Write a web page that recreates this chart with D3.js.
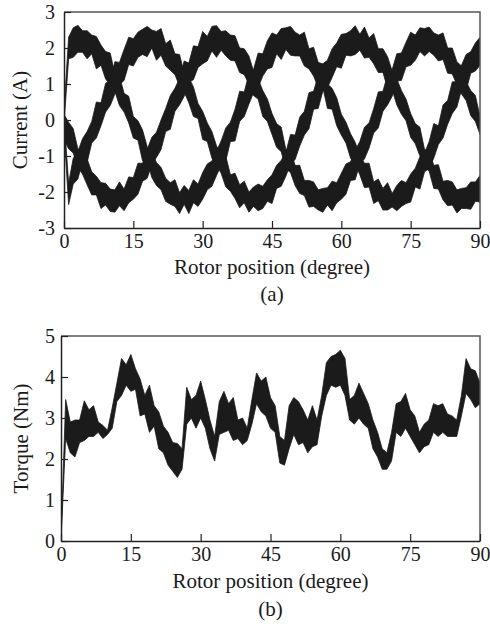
<!DOCTYPE html>
<html>
<head>
<meta charset="utf-8">
<script src="https://cdn.jsdelivr.net/npm/d3@7"></script>
<style>
  html, body { margin: 0; padding: 0; background: #fff; }
  svg { display: block; font-family: "Liberation Serif", "Times New Roman", serif; }
</style>
</head>
<body>
<div id="chart"></div>
<script>
// rotor position, one value per degree
const positions = d3.range(0, 91);
const xTicks = [0, 15, 30, 45, 60, 75, 90];
const currentTicks = [-3, -2, -1, 0, 1, 2, 3];
const torqueTicks = [0, 1, 2, 3, 4, 5];

// phase currents (A): upper / lower edge of the ripple band, read per degree
const phaseAHigh = [0.25, 2.30, 2.56, 2.63, 2.48, 2.48, 2.36, 2.32, 2.08, 1.90, 1.86, 1.28, 1.22, 0.74, 0.66, 0.10, -0.02, -0.28, -0.74, -0.90, -1.18, -1.32, -1.62, -1.74, -1.66, -2.02, -1.82, -1.96, -1.66, -1.78, -1.46, -1.22, -1.14, -0.86, -0.58, -0.22, -0.06, 0.30, 0.80, 0.78, 1.28, 1.40, 1.86, 1.84, 2.20,
  2.42, 2.36, 2.54, 2.56, 2.60, 2.44, 2.36, 2.44, 1.98, 2.02, 1.60, 1.56, 1.00, 0.88, 0.62, 0.16, -0.06, -0.38, -0.62, -0.98, -1.20, -1.20, -1.72, -1.64, -1.90, -1.74, -2.04, -1.82, -1.68, -1.74, -1.50, -1.34, -1.02, -0.92, -0.60, -0.10, -0.16, 0.42, 0.54, 1.06, 1.06, 1.52, 1.82, 1.90, 2.14, 2.30];
const phaseALow = [-0.10, 1.70, 1.74, 1.88, 1.88, 1.70, 1.84, 1.42, 1.52, 1.14, 0.98, 0.80, 0.40, 0.22, -0.08, -0.50, -0.56, -1.14, -1.14, -1.60, -1.82, -1.94, -2.26, -2.34, -2.40, -2.60, -2.34, -2.60, -2.30, -2.40, -2.20, -1.94, -1.84, -1.54, -1.26, -1.14, -0.60, -0.58, -0.04, 0.10, 0.44, 0.76, 0.90, 1.22, 1.42,
  1.46, 1.84, 1.68, 1.96, 1.80, 1.78, 1.78, 1.50, 1.42, 1.22, 0.90, 0.90, 0.32, 0.30, -0.16, -0.42, -0.64, -1.06, -1.22, -1.52, -1.88, -1.86, -2.32, -2.24, -2.50, -2.50, -2.42, -2.52, -2.40, -2.32, -2.28, -1.86, -1.92, -1.44, -1.34, -1.06, -0.68, -0.50, -0.12, 0.18, 0.36, 0.84, 0.82, 1.30, 1.36, 1.52];

const phaseBHigh = [0.10, -1.75, -1.06, -0.88, -0.52, -0.32, -0.04, 0.50, 0.48, 1.02, 1.10, 1.62, 1.60, 1.96, 2.30,
  2.26, 2.44, 2.52, 2.60, 2.50, 2.46, 2.54, 2.12, 2.22, 1.84, 1.82, 1.30, 1.18, 0.92, 0.46, 0.24, -0.08, -0.32, -0.72, -0.94, -1.00, -1.52, -1.48, -1.80, -1.70, -2.00, -1.86, -1.78, -1.84, -1.66, -1.52, -1.26, -1.12, -0.90, -0.40, -0.42, 0.08, 0.24, 0.76, 0.80, 1.24, 1.56, 1.66, 1.98, 2.14,
  2.38, 2.40, 2.48, 2.62, 2.38, 2.58, 2.28, 2.40, 1.98, 1.98, 1.76, 1.36, 1.14, 0.82, 0.58, 0.18, -0.10, -0.20, -0.82, -0.84, -1.26, -1.24, -1.70, -1.68, -1.72, -1.94, -1.90, -1.88, -1.72, -1.72, -1.54];
const phaseBLow = [-0.30, -2.35, -1.78, -1.64, -1.16, -1.18, -0.64, -0.50, -0.16, 0.22, 0.40, 0.72, 0.98, 1.10, 1.54,
  1.50, 1.74, 1.82, 1.76, 2.00, 1.66, 1.80, 1.50, 1.38, 1.26, 0.94, 0.78, 0.48, 0.10, 0.04, -0.54, -0.60, -1.06, -1.26, -1.48, -1.86, -1.98, -2.18, -2.44, -2.30, -2.56, -2.40, -2.52, -2.46, -2.26, -2.32, -1.90, -1.84, -1.56, -1.22, -1.10, -0.72, -0.42, -0.24, 0.30, 0.32, 0.80, 0.90, 1.18, 1.48,
  1.44, 1.80, 1.78, 1.82, 1.94, 1.72, 1.74, 1.56, 1.32, 1.32, 0.88, 0.84, 0.42, 0.16, -0.02, -0.48, -0.66, -1.00, -1.32, -1.42, -1.90, -1.92, -2.22, -2.38, -2.36, -2.58, -2.46, -2.46, -2.48, -2.26, -2.28];

const phaseCHigh = [0.15, -0.06, -0.24, -0.80, -0.88, -1.08, -1.44, -1.56, -1.74, -1.76, -1.92, -1.94, -1.72, -1.92, -1.58, -1.60, -1.20, -1.20, -0.82, -0.48, -0.34, 0.00, 0.32, 0.68, 0.88, 1.16, 1.64, 1.58, 2.06, 2.04,
  2.46, 2.32, 2.60, 2.62, 2.46, 2.48, 2.36, 2.34, 2.00, 1.98, 1.78, 1.36, 1.14, 0.82, 0.58, 0.18, -0.10, -0.20, -0.82, -0.84, -1.26, -1.26, -1.68, -1.68, -1.72, -1.94, -1.90, -1.88, -1.70, -1.74, -1.48, -1.22, -1.16, -0.84, -0.60, -0.20, -0.08, 0.32, 0.78, 0.80, 1.26, 1.40, 1.84, 1.86, 2.16,
  2.44, 2.36, 2.56, 2.54, 2.58, 2.42, 2.36, 2.42, 2.00, 2.00, 1.62, 1.50, 1.06, 0.82, 0.68, 0.10];
const phaseCLow = [-0.55, -0.80, -0.92, -1.32, -1.50, -1.80, -2.08, -2.08, -2.46, -2.36, -2.54, -2.56, -2.38, -2.52, -2.30, -2.20, -2.06, -1.70, -1.62, -1.24, -1.04, -0.82, -0.32, -0.26, 0.24, 0.42, 0.66, 1.04, 1.12, 1.46,
  1.56, 1.64, 1.92, 1.74, 1.94, 1.78, 1.66, 1.64, 1.32, 1.26, 1.00, 0.68, 0.58, 0.10, -0.04, -0.40, -0.76, -0.88, -1.36, -1.46, -1.82, -2.04, -2.10, -2.42, -2.40, -2.50, -2.56, -2.36, -2.52, -2.30, -2.20, -2.06, -1.68, -1.66, -1.22, -1.08, -0.78, -0.36, -0.22, 0.24, 0.42, 0.66, 1.08, 1.10, 1.48,
  1.52, 1.66, 1.90, 1.78, 1.90, 1.80, 1.64, 1.68, 1.30, 1.28, 0.98, 0.72, 0.54, 0.12, -0.04, -0.40];

// torque (Nm): upper / lower edge of the ripple band, read per degree
const torqueHigh = [0.05, 3.45, 2.90, 2.95, 2.95, 3.42, 3.20, 3.30, 2.90, 2.82, 2.70, 3.25, 3.85, 4.45, 4.30, 4.55, 4.20, 3.95, 3.55, 3.80, 3.30, 3.15, 2.80, 2.65, 2.40, 2.38, 2.25, 3.75, 3.45, 3.55, 3.90, 3.45, 2.95, 2.55, 3.40, 3.65, 3.35, 3.50, 2.95, 3.00, 2.75, 3.45, 4.10, 3.90, 4.00, 3.50, 3.30, 2.55, 2.45, 3.30, 3.50, 3.40, 3.20, 2.95, 3.30, 2.95, 3.55, 4.35, 4.50, 4.55, 4.65, 4.45, 3.45, 3.55, 3.85, 3.60, 3.35, 2.95, 2.65, 2.25, 2.15, 2.65, 3.35, 3.40, 3.60, 3.20, 3.05, 2.65, 2.85, 2.95, 3.35, 3.30, 3.35, 3.10, 3.05, 2.95, 3.55, 4.45, 4.20, 4.15, 3.85];
const torqueLow = [0.00, 2.50, 2.15, 2.05, 2.40, 2.45, 2.55, 2.55, 2.65, 2.50, 2.60, 2.75, 3.40, 3.55, 3.80, 3.65, 3.70, 3.05, 3.10, 2.65, 2.80, 2.25, 2.15, 1.85, 1.70, 1.55, 1.75, 2.85, 3.00, 2.75, 3.00, 2.75, 2.25, 1.95, 2.60, 2.65, 2.70, 2.45, 2.50, 2.35, 2.45, 2.85, 3.35, 3.15, 3.05, 2.75, 2.65, 1.90, 1.85, 2.25, 2.60, 2.35, 2.40, 2.15, 2.30, 2.35, 3.05, 3.55, 3.80, 3.75, 3.80, 3.55, 2.95, 2.85, 3.00, 2.85, 2.75, 2.25, 2.05, 1.75, 1.75, 1.95, 2.65, 2.55, 2.75, 2.55, 2.35, 2.15, 2.30, 2.35, 2.65, 2.55, 2.65, 2.55, 2.55, 2.55, 3.05, 3.60, 3.45, 3.25, 3.35];

const currentSeries = [
  { high: phaseAHigh, low: phaseALow },
  { high: phaseBHigh, low: phaseBLow },
  { high: phaseCHigh, low: phaseCLow }
];
const torqueSeries = [{ high: torqueHigh, low: torqueLow }];

const width = 490, height = 628;
const ink = "#1b1b1b";

const svg = d3.select("#chart").append("svg")
  .attr("width", width)
  .attr("height", height)
  .attr("viewBox", [0, 0, width, height]);

const drawPanel = (cfg) => {
  const innerWidth = cfg.right - cfg.left;
  const innerHeight = cfg.bottom - cfg.top;

  const xScale = d3.scaleLinear().domain([0, 90]).range([0, innerWidth]);
  const yScale = d3.scaleLinear().domain(cfg.yDomain).range([innerHeight, 0]);

  const g = svg.append("g")
    .attr("transform", `translate(${cfg.left}, ${cfg.top})`);

  g.append("clipPath").attr("id", `clip-${cfg.id}`)
    .append("rect").attr("width", innerWidth).attr("height", innerHeight);

  // each signal is drawn as the band between its upper and lower ripple edge
  const band = d3.area()
    .x((d, i) => xScale(positions[i]))
    .y0(d => yScale(d[1]))
    .y1(d => yScale(d[0]));

  const plot = g.append("g").attr("clip-path", `url(#clip-${cfg.id})`);
  cfg.series.forEach(s => {
    const pairs = s.high.map((h, i) => [h, s.low[i]]);
    plot.append("path")
      .attr("d", band(pairs))
      .attr("fill", ink)
      .attr("stroke", ink)
      .attr("stroke-width", 0.8)
      .attr("stroke-linejoin", "miter");
  });

  // frame on top and right
  g.append("path")
    .attr("d", `M0,0H${innerWidth}V${innerHeight}`)
    .attr("fill", "none")
    .attr("stroke", "#555")
    .attr("stroke-width", 1.5);

  const xAxis = g.append("g")
    .attr("transform", `translate(0, ${innerHeight})`)
    .call(d3.axisBottom(xScale)
      .tickValues(xTicks)
      .tickFormat(d => String(d))
      .tickSizeInner(-7)
      .tickSizeOuter(0)
      .tickPadding(6));

  const yAxis = g.append("g")
    .call(d3.axisLeft(yScale)
      .tickValues(cfg.yTicks)
      .tickFormat(d => String(d))
      .tickSizeInner(-7)
      .tickSizeOuter(0)
      .tickPadding(cfg.yPad));

  [xAxis, yAxis].forEach(ax => {
    ax.select(".domain").attr("stroke", "#222").attr("stroke-width", 1.5);
    ax.selectAll(".tick line").attr("stroke", "#222").attr("stroke-width", 1.2);
    ax.selectAll(".tick text")
      .attr("fill", "#1a1a1a")
      .style("font-family", "'Liberation Serif', 'Times New Roman', serif")
      .style("font-size", "20px");
  });

  svg.append("text")
    .attr("x", cfg.left + innerWidth / 2)
    .attr("y", cfg.xTitleY)
    .attr("text-anchor", "middle")
    .attr("fill", "#1a1a1a")
    .style("font-size", "21px")
    .text("Rotor position (degree)");

  svg.append("text")
    .attr("x", cfg.left + innerWidth / 2)
    .attr("y", cfg.captionY)
    .attr("text-anchor", "middle")
    .attr("fill", "#1a1a1a")
    .style("font-size", "21px")
    .text(cfg.caption);

  svg.append("text")
    .attr("transform", `translate(${cfg.yTitleX}, ${cfg.top + innerHeight / 2}) rotate(-90)`)
    .attr("text-anchor", "middle")
    .attr("fill", "#1a1a1a")
    .style("font-size", "21px")
    .text(cfg.yTitle);
};

drawPanel({
  id: "current", left: 64, right: 480, top: 12, bottom: 228,
  yDomain: [-3, 3], yTicks: currentTicks, yPad: 9,
  series: currentSeries,
  yTitle: "Current (A)", yTitleX: 27,
  xTitleY: 274, caption: "(a)", captionY: 301
});

drawPanel({
  id: "torque", left: 61, right: 480, top: 336, bottom: 541,
  yDomain: [0, 5], yTicks: torqueTicks, yPad: 6,
  series: torqueSeries,
  yTitle: "Torque (Nm)", yTitleX: 28,
  xTitleY: 588, caption: "(b)", captionY: 616
});
</script>
</body>
</html>
